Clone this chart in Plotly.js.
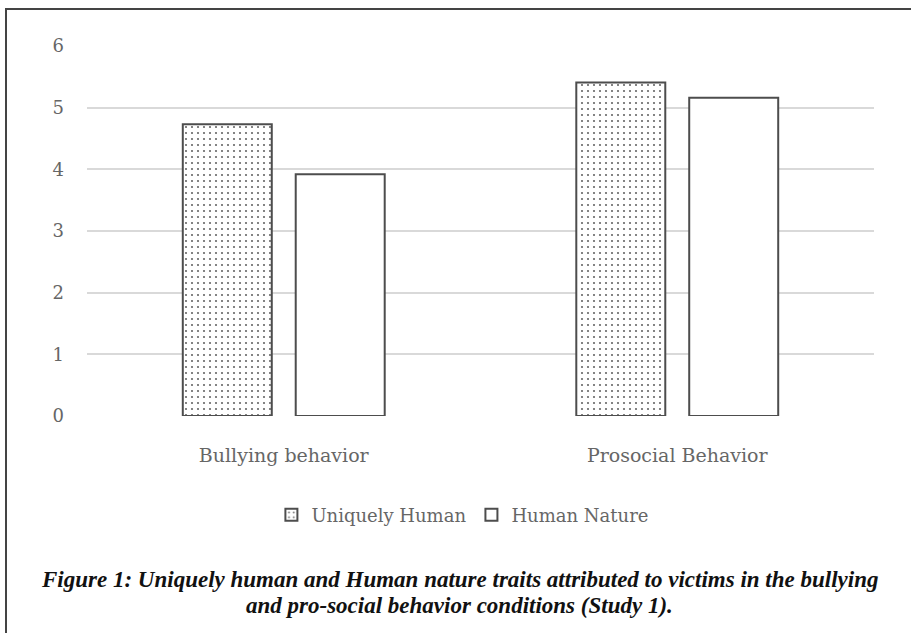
<!DOCTYPE html>
<html>
<head>
<meta charset="utf-8">
<script src="https://cdn.plot.ly/plotly-3.0.1.min.js"></script>
<style>
  html, body { margin: 0; padding: 0; background: #fff; }
  #wrap { position: relative; width: 911px; height: 633px; overflow: hidden; }
  #chart { position: absolute; left: 0; top: 0; width: 911px; height: 633px; }
  #frame { position: absolute; left: 5px; top: 8px; width: 920px; height: 640px;
           border-top: 2px solid #444; border-left: 2px solid #444; pointer-events: none; }
</style>
</head>
<body>
<div id="wrap">
  <div id="chart"></div>
  <div id="frame"></div>
</div>
<script>
const categories = ["Bullying behavior", "Prosocial Behavior"];
const uniquelyHuman = [4.73, 5.41];
const humanNature = [3.92, 5.16];
const yTicks = [0, 1, 2, 3, 4, 5, 6];
const captionLines = [
  "Figure 1: Uniquely human and Human nature traits attributed to victims in the bullying",
  "and pro-social behavior conditions (Study 1)."
];

const serif = "DejaVu Serif, serif";
const gray = "#666666";

const traces = [
  {
    type: "bar", name: "Uniquely Human", x: categories, y: uniquelyHuman,
    marker: {
      color: "#ffffff",
      line: { color: "#4d4d4d", width: 2 },
      pattern: { shape: ".", size: 6, solidity: 0.1, fgcolor: "#666666", bgcolor: "#ffffff" }
    },
    hoverinfo: "skip"
  },
  {
    type: "bar", name: "Human Nature", x: categories, y: humanNature,
    marker: { color: "#ffffff", line: { color: "#4d4d4d", width: 2 } },
    hoverinfo: "skip"
  }
];

const captionY = [-0.4432, -0.5135];

const layout = {
  width: 911, height: 633,
  margin: { l: 87, r: 37, t: 46, b: 217 },
  paper_bgcolor: "#ffffff", plot_bgcolor: "#ffffff",
  barmode: "group", bargap: 0.426, bargroupgap: 0.212,
  showlegend: true,
  legend: {
    orientation: "h", x: 0.477, xanchor: "center", y: -0.268, yanchor: "middle",
    font: { family: serif, size: 18, color: gray },
    itemwidth: 30, tracegroupgap: 0, traceorder: "normal"
  },
  xaxis: {
    type: "category", showgrid: false, zeroline: false, showline: false, ticks: "",
    tickfont: { family: serif, size: 19, color: gray },
    ticklabelstandoff: 26
  },
  yaxis: {
    range: [0, 6], tickvals: yTicks, ticktext: yTicks.map(String),
    showgrid: true, gridcolor: "#d9d9d9", gridwidth: 2,
    zeroline: false, showline: false, ticks: "",
    tickfont: { family: serif, size: 18, color: gray },
    ticklabelstandoff: 22
  },
  annotations: captionLines.map((t, i) => ({
    xref: "paper", yref: "paper", x: 0.4734, y: captionY[i], xanchor: "center", yanchor: "middle",
    text: "<b><i>" + t + "</i></b>", showarrow: false, align: "center",
    font: { family: "Liberation Serif, Times New Roman, serif", size: 23, color: "#111111" }
  }))
};

Plotly.newPlot("chart", traces, layout, { staticPlot: true, displayModeBar: false });
</script>
</body>
</html>
